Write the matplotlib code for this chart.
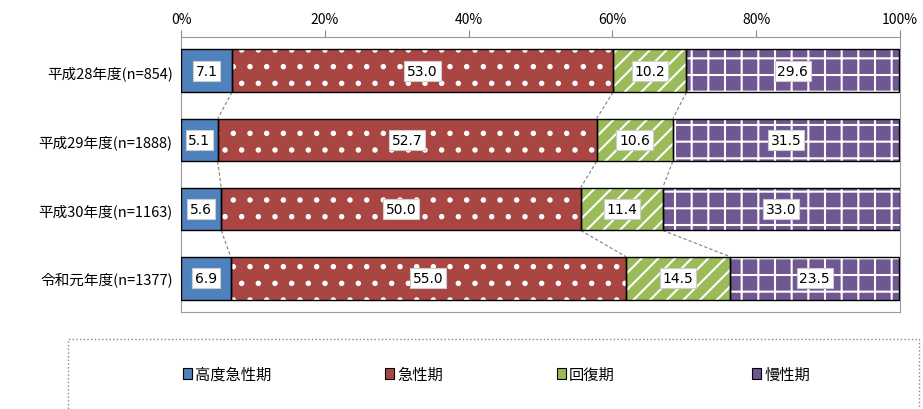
import numpy as np
import matplotlib.pyplot as plt
from matplotlib.patches import Patch, Rectangle

plt.rcParams['font.family'] = ['Noto Sans CJK JP', 'DejaVu Sans']
plt.rcParams['hatch.linewidth'] = 1.5

years = ["平成28年度(n=854)", "平成29年度(n=1888)", "平成30年度(n=1163)", "令和元年度(n=1377)"]
phases = ["高度急性期", "急性期", "回復期", "慢性期"]
high_acute = [7.1, 5.1, 5.6, 6.9]
acute = [53.0, 52.7, 50.0, 55.0]
recovery = [10.2, 10.6, 11.4, 14.5]
chronic = [29.6, 31.5, 33.0, 23.5]
x_ticks = [0, 20, 40, 60, 80, 100]

series = [high_acute, acute, recovery, chronic]
colors = ["#4F81BD", "#A94543", "#9BBB59", "#6F5791"]
hatches = [None, ".", "//", "+"]

fig = plt.figure(figsize=(9.23, 4.10), dpi=100)
ax = fig.add_axes([181/923, 1 - 313/410, 719/923, 275/410])

y = np.arange(len(years))
h = 0.62
left = np.zeros(len(years))
edges = []
for vals, color, hatch in zip(series, colors, hatches):
    vals = np.array(vals)
    ax.barh(y, vals, left=left, height=h, color=color, edgecolor="white",
            hatch=hatch, lw=0, zorder=2)
    ax.barh(y, vals, left=left, height=h, fill=False, edgecolor="black",
            lw=1, zorder=3)
    for yi, v, l in zip(y, vals, left):
        ax.text(l + v/2, yi, f"{v:.1f}", ha="center", va="center", fontsize=10,
                family="DejaVu Sans", zorder=4,
                bbox=dict(boxstyle="square,pad=0.2", fc="white", ec="#cccccc", lw=0.8))
    left = left + vals
    edges.append(left.copy())

# dashed connectors between the segment boundaries of neighbouring bars
for b in edges[:-1]:
    for i in range(len(years) - 1):
        ax.plot([b[i], b[i+1]], [i + h/2, i + 1 - h/2], ls=(0, (3, 2)),
                color="#808080", lw=0.8, zorder=1)

ax.set_xlim(0, 100)
ax.set_ylim(len(years) - 0.51, -0.49)
ax.xaxis.tick_top()
ax.set_xticks(x_ticks)
ax.set_xticklabels([f"{v}%" for v in x_ticks], fontsize=10)
ax.tick_params(axis="x", direction="out", length=5, color="#888888", pad=3)
ax.set_yticks(y)
ax.set_yticklabels(years, fontsize=10.5)
ax.tick_params(axis="y", length=0, pad=6)
for s in ax.spines.values():
    s.set_color("#999999")

# one legend entry per phase, spread across the bottom box
legend_x = [183, 385, 557, 752]
for name, color, hatch, lx in zip(phases, colors, hatches, legend_x):
    hdl = Patch(facecolor=color, edgecolor="black", lw=0.8)
    fig.legend([hdl], [name], loc="center left", bbox_to_anchor=(lx/923, 0.085),
               frameon=False, fontsize=11, handlelength=0.6, handleheight=0.7,
               handletextpad=0.2, borderpad=0, borderaxespad=0)
fig.add_artist(Rectangle((68/923, -0.05), (919 - 68)/923, 1 - 340/410 + 0.05,
                         transform=fig.transFigure, fill=False, ls=":",
                         ec="#888888", lw=1))

fig.savefig("out.png", dpi=100)
